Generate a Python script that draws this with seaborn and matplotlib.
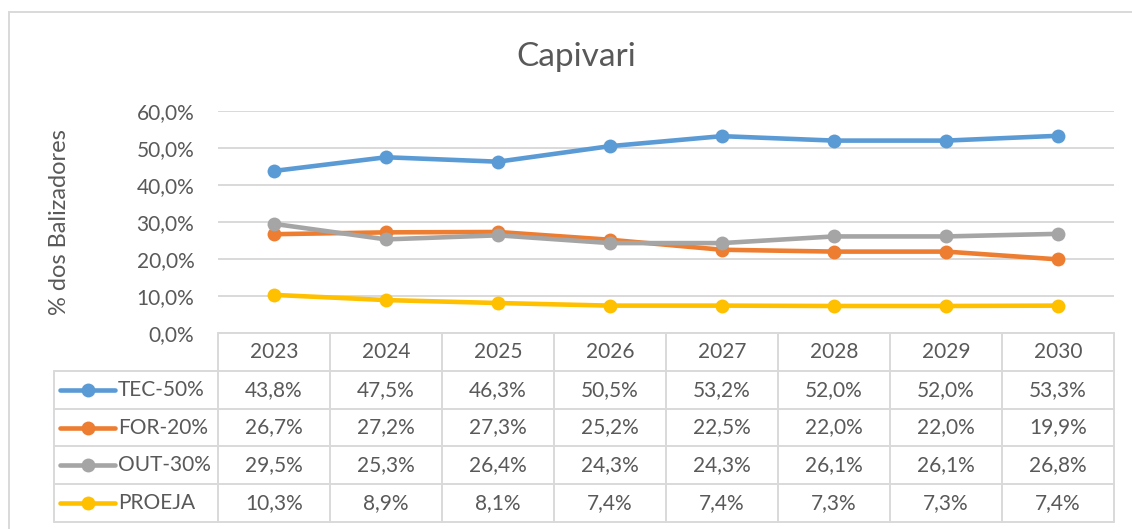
import pandas as pd
import matplotlib.pyplot as plt
import seaborn as sns
from matplotlib.patches import Rectangle
from matplotlib.ticker import FuncFormatter

# Data
years = ['2023', '2024', '2025', '2026', '2027', '2028', '2029', '2030']
tec_50 = [43.8, 47.5, 46.3, 50.5, 53.2, 52.0, 52.0, 53.3]
for_20 = [26.7, 27.2, 27.3, 25.2, 22.5, 22.0, 22.0, 19.9]
out_30 = [29.5, 25.3, 26.4, 24.3, 24.3, 26.1, 26.1, 26.8]
proeja = [10.3, 8.9, 8.1, 7.4, 7.4, 7.3, 7.3, 7.4]

series_names = ['TEC-50%', 'FOR-20%', 'OUT-30%', 'PROEJA']
series_values = [tec_50, for_20, out_30, proeja]
colors = ['#5B9BD5', '#ED7D31', '#A5A5A5', '#FFC000']

rows = []
for name, vals in zip(series_names, series_values):
    for i, v in enumerate(vals):
        rows.append({'x': i, 'Ano': years[i], 'Série': name, 'valor': v / 100})
df = pd.DataFrame(rows)

sns.set_style('white')
plt.rcParams['font.family'] = ['Lato', 'DejaVu Sans']
text_color = '#595959'
grid_color = '#D9D9D9'
fs = 15

W, H = 1132, 529
fig = plt.figure(figsize=(W / 100, H / 100), dpi=100)

# plot area (pixel layout of the reference)
px_left, px_right, px_top, px_bottom = 218, 1114, 111, 333
ax = fig.add_axes([px_left / W, 1 - px_bottom / H, (px_right - px_left) / W, (px_bottom - px_top) / H])

sns.lineplot(data=df, x='x', y='valor', hue='Série', palette=colors, marker='o',
             markersize=10, markeredgewidth=0, linewidth=3.3, legend=False, ax=ax, zorder=3)

ax.set_xlim(-0.5, len(years) - 0.5)
ax.set_ylim(0, 0.6)
ax.set_yticks([0, 0.1, 0.2, 0.3, 0.4, 0.5, 0.6])
ax.yaxis.set_major_formatter(FuncFormatter(lambda v, p: f"{v * 100:.1f}%".replace('.', ',')))
ax.set_xticks([])
ax.set_xlabel('')
ax.set_ylabel('')
ax.tick_params(axis='y', length=0, pad=17, labelsize=fs, labelcolor=text_color)
ax.grid(axis='y', color=grid_color, linewidth=1.4)
ax.set_axisbelow(True)
for s in ax.spines.values():
    s.set_visible(False)

# data table below the plot
tab_left, tab_top, tab_bottom = 54, 333, 522
col_w = (px_right - px_left) / len(years)
x_min = -0.5 - (px_left - tab_left) / col_w
n_rows = len(series_names) + 1
tab = fig.add_axes([tab_left / W, 1 - tab_bottom / H, (px_right - tab_left) / W, (tab_bottom - tab_top) / H])
tab.set_xlim(x_min, len(years) - 0.5)
tab.set_ylim(n_rows, 0)
tab.axis('off')

lw = 1.4
tab.plot([-0.5, len(years) - 0.5], [0, 0], color=grid_color, lw=lw, clip_on=False)
for r in range(1, n_rows + 1):
    tab.plot([x_min, len(years) - 0.5], [r, r], color=grid_color, lw=lw, clip_on=False)
for k in range(len(years) + 1):
    tab.plot([k - 0.5, k - 0.5], [0, n_rows], color=grid_color, lw=lw, clip_on=False)
tab.plot([x_min, x_min], [1, n_rows], color=grid_color, lw=lw, clip_on=False)

for i, yr in enumerate(years):
    tab.text(i, 0.5, yr, ha='center', va='center', fontsize=fs, color=text_color)

for r, (name, vals, c) in enumerate(zip(series_names, series_values, colors), start=1):
    yc = r + 0.5
    x0 = x_min + 6 / col_w
    x1 = x_min + 61 / col_w
    tab.plot([x0, x1], [yc, yc], color=c, lw=3.3, solid_capstyle='round', clip_on=False)
    tab.plot([(x0 + x1) / 2], [yc], 'o', color=c, markersize=10, markeredgewidth=0, clip_on=False)
    tab.text(x1 + 3 / col_w, yc, name, ha='left', va='center', fontsize=fs, color=text_color)
    for i, v in enumerate(vals):
        tab.text(i, yc, f"{v:.1f}%".replace('.', ','), ha='center', va='center',
                 fontsize=fs, color=text_color)

# titles
fig.text(576.5 / W, 1 - 57 / H, 'Capivari', ha='center', va='center', fontsize=24, color=text_color)
fig.text(59 / W, 1 - 222 / H, '% dos Balizadores', ha='center', va='center', rotation=90,
         fontsize=17, color=text_color)

# chart border
fig.add_artist(Rectangle((9 / W, -0.1), 2, 1.1 - 12 / H, transform=fig.transFigure,
                         fill=False, edgecolor=grid_color, linewidth=1.4))

fig.savefig('out.png', dpi=100)
